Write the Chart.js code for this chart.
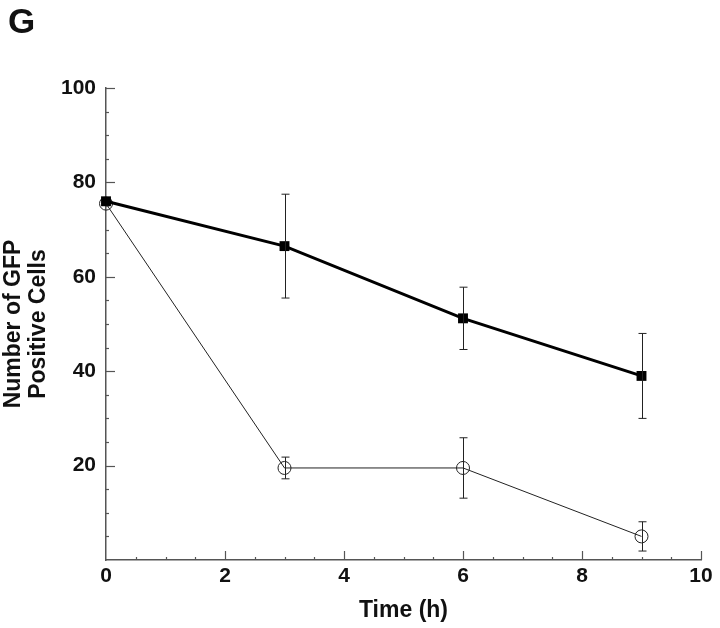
<!DOCTYPE html>
<html>
<head>
<meta charset="utf-8">
<script src="https://cdn.jsdelivr.net/npm/chart.js@4.4.1/dist/chart.umd.min.js"></script>
<style>
    body { margin: 0; background: #fff; }
    #wrap { position: relative; width: 720px; height: 628px; }
</style>
</head>
<body>
<div id="wrap"><canvas id="gfpChart"></canvas></div>
<script>
// --- data ---
const timePoints = [0, 3, 6, 9];
const squareMeans = [76, 66.5, 51.2, 39];
const squareErrors = [0, 11, 6.6, 9];
const circleMeans = [75.5, 19.5, 19.5, 5];
const circleErrors = [0, 2.3, 6.4, 3.1];
const xTicks = [0, 2, 4, 6, 8, 10];
const yTicks = [20, 40, 60, 80, 100];

const axisColor = '#555';
const inkColor = '#111';
const fontFamily = "'Liberation Sans', Arial, Helvetica, sans-serif";

function toPoints(xs, ys) {
    return xs.map((x, i) => ({ x: x, y: ys[i] }));
}

// inward major/minor ticks, error bars and panel letter
const figurePlugin = {
    id: 'figureExtras',
    afterDatasetsDraw(chart) {
        const ctx = chart.ctx;
        const xs = chart.scales.x;
        const ys = chart.scales.y;
        const area = chart.chartArea;

        ctx.save();
        ctx.strokeStyle = axisColor;
        ctx.lineWidth = 1.2;

        // x axis ticks (major every 2, minor every 0.5)
        for (let v = 0.5; v <= 10.001; v += 0.5) {
            const px = Math.round(xs.getPixelForValue(v)) + 0.5;
            const len = (Math.abs(v / 2 - Math.round(v / 2)) < 1e-6) ? 9 : 3;
            ctx.beginPath();
            ctx.moveTo(px, area.bottom);
            ctx.lineTo(px, area.bottom - len);
            ctx.stroke();
        }
        // y axis ticks (major every 20, minor every 5)
        for (let v = 5; v <= 100.001; v += 5) {
            const py = Math.round(ys.getPixelForValue(v)) + 0.5;
            const len = (v % 20 === 0) ? 9 : 3;
            ctx.beginPath();
            ctx.moveTo(area.left, py);
            ctx.lineTo(area.left + len, py);
            ctx.stroke();
        }

        // error bars
        ctx.strokeStyle = '#222';
        ctx.lineWidth = 1;
        const drawBars = (means, errs) => {
            timePoints.forEach((t, i) => {
                if (!errs[i]) return;
                const px = Math.round(xs.getPixelForValue(t)) + 0.5;
                const top = ys.getPixelForValue(means[i] + errs[i]);
                const bot = ys.getPixelForValue(means[i] - errs[i]);
                ctx.beginPath();
                ctx.moveTo(px, top);
                ctx.lineTo(px, bot);
                ctx.moveTo(px - 4, top);
                ctx.lineTo(px + 4, top);
                ctx.moveTo(px - 4, bot);
                ctx.lineTo(px + 4, bot);
                ctx.stroke();
            });
        };
        drawBars(squareMeans, squareErrors);
        drawBars(circleMeans, circleErrors);

        // panel letter
        ctx.fillStyle = inkColor;
        ctx.font = 'bold 35px ' + fontFamily;
        ctx.textBaseline = 'alphabetic';
        ctx.textAlign = 'left';
        ctx.fillText('G', 8, 33);
        ctx.restore();
    }
};

const ctx = document.getElementById('gfpChart').getContext('2d');

new Chart(ctx, {
    type: 'line',
    data: {
        datasets: [
            {
                label: 'filled squares',
                data: toPoints(timePoints, squareMeans),
                borderColor: '#000',
                borderWidth: 3,
                pointStyle: 'rect',
                pointRadius: 7,
                pointBackgroundColor: '#000',
                pointBorderColor: '#000',
                pointBorderWidth: 0,
                tension: 0,
                fill: false,
                clip: false,
                order: 0
            },
            {
                label: 'open circles',
                data: toPoints(timePoints, circleMeans),
                borderColor: '#222',
                borderWidth: 1,
                pointStyle: 'circle',
                pointRadius: 6.5,
                pointBackgroundColor: 'rgba(0,0,0,0)',
                pointBorderColor: '#222',
                pointBorderWidth: 1,
                tension: 0,
                fill: false,
                clip: false,
                order: 1
            }
        ]
    },
    options: {
        responsive: true,
        maintainAspectRatio: false,
        animation: false,
        layout: { padding: { top: 88, right: 19, bottom: 0, left: 0 } },
        plugins: {
            legend: { display: false },
            tooltip: { enabled: false }
        },
        scales: {
            x: {
                type: 'linear',
                min: 0,
                max: 10,
                afterFit: (scale) => { scale.height = 68; },
                afterBuildTicks: (scale) => { scale.ticks = xTicks.map(v => ({ value: v })); },
                ticks: {
                    color: inkColor,
                    padding: 4,
                    font: { family: fontFamily, size: 21, weight: 'bold' }
                },
                grid: { display: false, drawTicks: false },
                border: { display: true, color: axisColor, width: 1.5 },
                title: {
                    display: true,
                    text: 'Time (h)',
                    color: inkColor,
                    padding: { top: 0, bottom: 6 },
                    font: { family: fontFamily, size: 23, weight: 'bold', lineHeight: 1.0 }
                }
            },
            y: {
                type: 'linear',
                min: 0,
                max: 100,
                afterFit: (scale) => { scale.width = 106; },
                afterBuildTicks: (scale) => { scale.ticks = yTicks.map(v => ({ value: v })); },
                ticks: {
                    color: inkColor,
                    padding: 10,
                    font: { family: fontFamily, size: 21, weight: 'bold' }
                },
                grid: { display: false, drawTicks: false },
                border: { display: true, color: axisColor, width: 1.5 },
                title: {
                    display: true,
                    text: ['Number of GFP', 'Positive Cells'],
                    color: inkColor,
                    padding: { top: 2, bottom: 0 },
                    font: { family: fontFamily, size: 23, weight: 'bold', lineHeight: 1.05 }
                }
            }
        }
    },
    plugins: [figurePlugin]
});
</script>
</body>
</html>
